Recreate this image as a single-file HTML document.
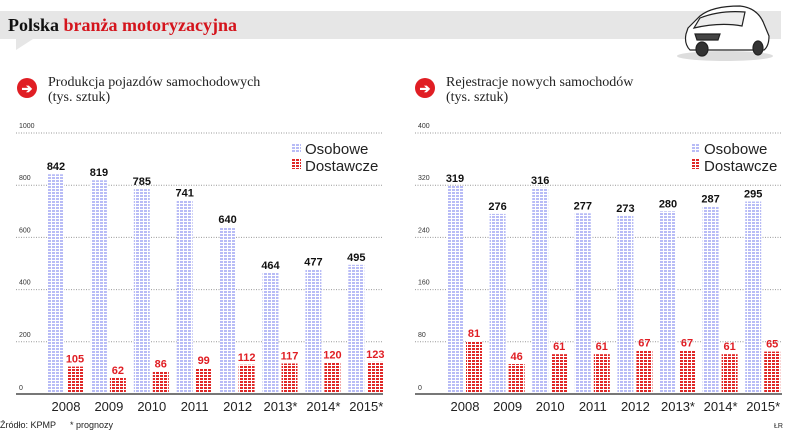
<!DOCTYPE html>
<html><head><meta charset="utf-8"><style>
html,body{margin:0;padding:0;background:#fff;}
svg{display:block;font-family:"Liberation Sans",sans-serif;}
</style></head><body>
<svg width="805" height="447" viewBox="0 0 805 447">
<defs>
<pattern id="pb" width="4" height="3" patternUnits="userSpaceOnUse"><rect width="4" height="3" fill="#fff"/><rect width="3" height="2" fill="#b8bcf6"/></pattern>
<pattern id="pr" width="4" height="3" patternUnits="userSpaceOnUse"><rect width="4" height="3" fill="#fff"/><rect width="3" height="2" fill="#e02828"/></pattern>
</defs>
<g>
<rect x="0" y="11" width="781" height="28" fill="#e6e6e6"/>
<polygon points="16,39 33,39 16,50" fill="#e6e6e6"/>
<text x="8" y="31" font-family="'Liberation Serif',serif" font-weight="bold" font-size="18" fill="#111">Polska <tspan fill="#d4141c">branża motoryzacyjna</tspan></text>
</g>
<g fill="#fff" stroke="#222" stroke-width="1.2">
<ellipse cx="725" cy="56" rx="48" ry="5" fill="#ddd" stroke="none"/>
<path d="M688,28 L700,16 Q712,6 740,6 Q758,8 764,24 L769,36 Q769,46 764,50 L690,50 Q684,44 686,34 Z"/>
<path d="M700,18 Q720,10 745,12 L742,26 Q720,22 694,28 Z" fill="#eee"/>
<path d="M695,34 L720,34 L718,40 L697,40 Z" fill="#444"/>
<ellipse cx="702" cy="49" rx="6" ry="7" fill="#333"/>
<ellipse cx="758" cy="48" rx="5" ry="7" fill="#333"/>
</g>

<g>
<circle cx="27" cy="88" r="10" fill="#e01e24"/>
<text x="27" y="93" text-anchor="middle" fill="#fff" font-weight="bold" font-size="13">➔</text>
<text x="48" y="86" font-family="'Liberation Serif',serif" font-size="14" fill="#222">Produkcja pojazdów samochodowych</text>
<text x="48" y="101" font-family="'Liberation Serif',serif" font-size="14" fill="#222">(tys. sztuk)</text>
<g id="c1"></g>
</g>
<g>
<circle cx="425" cy="88" r="10" fill="#e01e24"/>
<text x="425" y="93" text-anchor="middle" fill="#fff" font-weight="bold" font-size="13">➔</text>
<text x="446" y="86" font-family="'Liberation Serif',serif" font-size="14" fill="#222">Rejestracje nowych samochodów</text>
<text x="446" y="101" font-family="'Liberation Serif',serif" font-size="14" fill="#222">(tys. sztuk)</text>
<g id="c2"></g>
</g>
<text x="0" y="428" font-size="9" fill="#222">Źródło: KPMP</text>
<text x="70" y="428" font-size="9" fill="#222">* prognozy</text>
<text x="774" y="428" font-size="7" fill="#222">ŁR</text>
</svg>
<script>
const years = ["2008","2009","2010","2011","2012","2013*","2014*","2015*"];
const prodCars = [842,819,785,741,640,464,477,495];
const prodVans = [105,62,86,99,112,117,120,123];
const prodTicks = [0,200,400,600,800,1000];
const regCars = [319,276,316,277,273,280,287,295];
const regVans = [81,46,61,61,67,67,61,65];
const regTicks = [0,80,160,240,320,400];

const NS="http://www.w3.org/2000/svg";
function mk(p,tag,a,txt){const e=document.createElementNS(NS,tag);for(const k in a)e.setAttribute(k,a[k]);if(txt!==undefined)e.textContent=txt;p.appendChild(e);return e;}
function draw(gid,x0,x1,firstBar,step,max,cars,vans,ticks,legX){
  const g=document.getElementById(gid);
  const base=394, top=133;
  const y=v=>base-(v/max)*(base-top);
  ticks.forEach(t=>{
    if(t>0){const l=mk(g,'line',{x1:x0,x2:x1,y1:y(t),y2:y(t),stroke:'#999','stroke-width':1,'stroke-dasharray':'1,1.5'});
    
    }
    const tx=mk(g,'text',{x:x0+3,y:(t>0?y(t)-5:y(t)-4),'font-size':7,fill:'#333'},String(t));
    
    
  });
  years.forEach((yr,i)=>{
    const bx=firstBar+i*step;
    const b=mk(g,'rect',{x:bx,y:y(cars[i]),width:16,height:base-y(cars[i]),fill:'url(#pb)'});
    
    
    const r=mk(g,'rect',{x:bx+19,y:y(vans[i]),width:16,height:base-y(vans[i]),fill:'url(#pr)'});
    
    
    const t1=mk(g,'text',{x:bx+8,y:y(cars[i])-4,'font-size':11,'font-weight':'bold','text-anchor':'middle',fill:'#111'},String(cars[i]));
    
    
    const t2=mk(g,'text',{x:bx+27,y:y(vans[i])-4,'font-size':11,'font-weight':'bold','text-anchor':'middle',fill:'#e01e24'},String(vans[i]));
    
    
    const xl=mk(g,'text',{x:bx+18,y:411,'font-size':13,'text-anchor':'middle',fill:'#222'},yr);
    
    
  });
  const ax=mk(g,'line',{x1:x0,x2:x1,y1:base,y2:base,stroke:'#777','stroke-width':2});
  
  
  const lg=mk(g,'g',{});
  
  
  mk(lg,'rect',{x:legX,y:143,width:9,height:10,fill:'url(#pb)'});
  mk(lg,'text',{x:legX+13,y:154,'font-size':15,fill:'#222'},'Osobowe');
  mk(lg,'rect',{x:legX,y:159,width:9,height:10,fill:'url(#pr)'});
  mk(lg,'text',{x:legX+13,y:171,'font-size':15,fill:'#222'},'Dostawcze');
}
draw('c1',16,383,48,42.9,1000,prodCars,prodVans,prodTicks,292);
draw('c2',415,782,447,42.6,400,regCars,regVans,regTicks,691);
</script>
</body></html>
